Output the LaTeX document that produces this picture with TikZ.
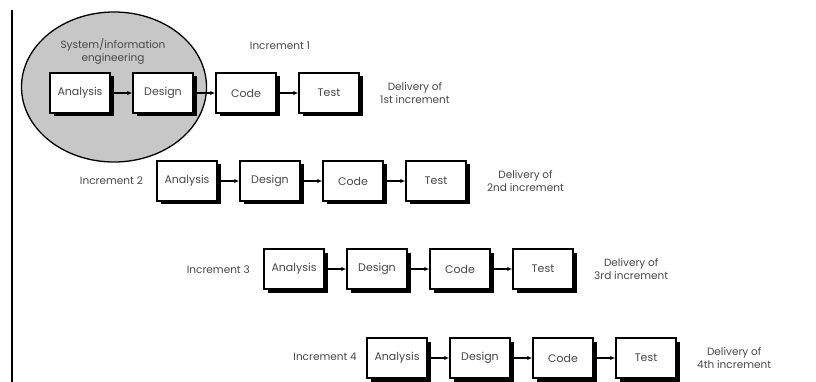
\documentclass[tikz,border=0pt]{standalone}
\usepackage{fontspec}
\setmainfont{Poppins}
\usetikzlibrary{shadows,arrows.meta,shapes.geometric}
\definecolor{txt}{gray}{0.28}
\tikzset{
  stagebox/.style={draw=black, line width=1.5pt, fill=white, minimum width=60pt,
    minimum height=40pt, inner sep=0pt, text=txt, font=\fontsize{11}{12}\selectfont,
    drop shadow={shadow xshift=3.5pt, shadow yshift=-3.5pt, fill=black, opacity=1}},
  flow/.style={line width=1.4pt, -{Latex[length=5pt,width=4.5pt]}},
  lbl/.style={text=txt, font=\fontsize{10.5}{13}\selectfont, align=center, inner sep=0pt},
}
\begin{document}
\begin{tikzpicture}[x=1pt,y=-1pt]
\useasboundingbox (0,0) rectangle (816,382);
% left margin rule
\draw[line width=1.4pt] (12,10) -- (12,382);
% system / information engineering region
\node[draw=black, line width=1.3pt, fill=black!22, ellipse, minimum width=185pt, minimum height=150pt, inner sep=0pt] (sie) at (114,87) {};
\node[lbl] (sielbl) at (113,51) {System/information\\engineering};
\node[lbl] (inc1) at (280,46) {Increment 1};
% increments
\foreach \r/\ax/\y/\del in {1/80/93/1st, 2/187/181/2nd, 3/294/269/3rd, 4/397/358/4th}{
  \node[stagebox] (a\r) at (\ax,\y) {Analysis};
  \node[stagebox] (d\r) at (\ax+83,\y) {Design};
  \node[stagebox] (c\r) at (\ax+166,\y) {Code};
  \node[stagebox] (t\r) at (\ax+249,\y) {Test};
  \draw[flow] (a\r) -- (d\r);
  \draw[flow] (d\r) -- (c\r);
  \draw[flow] (c\r) -- (t\r);
  \node[lbl, anchor=west] (del\r) at (\ax+300,\y) {Delivery of\\\del{} increment};
}
\node[lbl, anchor=east] (inc2) at (143,181) {Increment 2};
\node[lbl, anchor=east] (inc3) at (250,270) {Increment 3};
\node[lbl, anchor=east] (inc4) at (357,357) {Increment 4};
\end{tikzpicture}
\end{document}
